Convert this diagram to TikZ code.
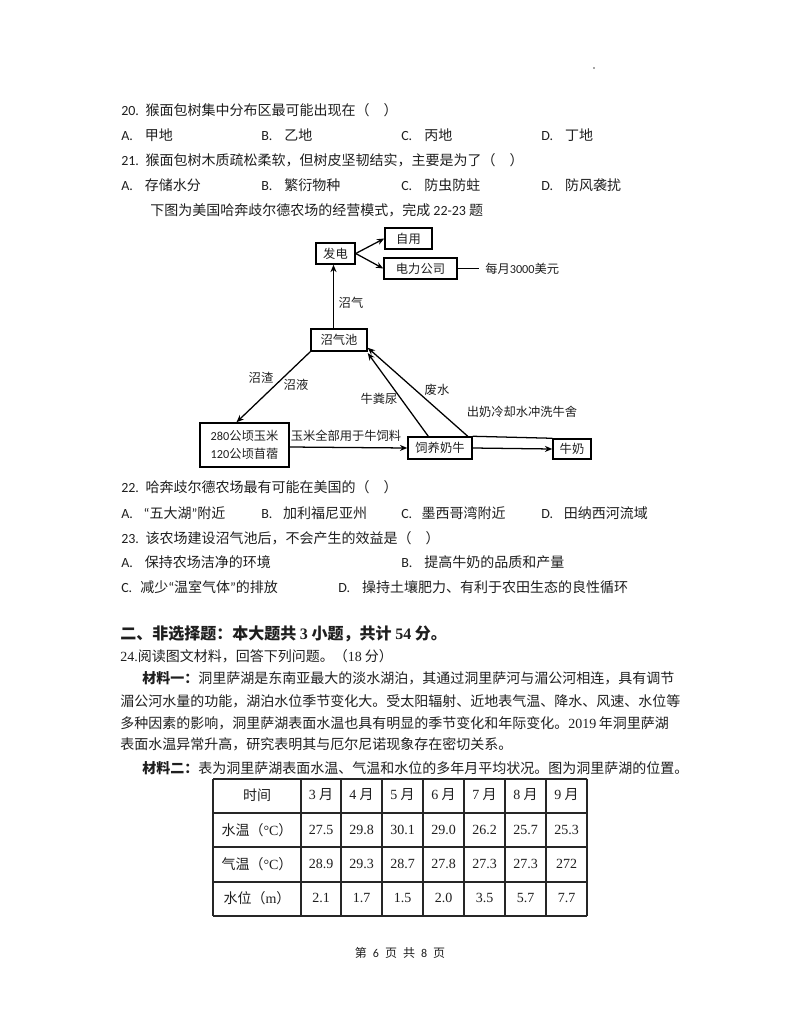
\documentclass[tikz,border=0pt]{standalone}
\usepackage{fontspec}
\usetikzlibrary{arrows.meta}
\setmainfont{Noto Sans CJK SC}
\newfontfamily\latf{Carlito}
\newfontfamily\serf{Liberation Serif}
\XeTeXlinebreaklocale "zh"
\XeTeXlinebreakskip=0pt plus 2pt
\newcommand\latn[1]{{\latf #1}}
\newcommand\sern[1]{{\serf #1}}
\newcommand\jl[2]{\makebox[#1][s]{#2}}
\definecolor{ink}{gray}{0.12}
\tikzset{
  txt/.style={anchor=west,inner sep=0pt,text=ink,font=\fontsize{10.5pt}{12pt}\selectfont,text height=11pt,text depth=2pt},
  lab/.style={inner sep=0pt,text=ink,font=\fontsize{9.2pt}{11pt}\selectfont},
  boxn/.style={draw=black,line width=1.1pt,inner sep=0pt,text=ink,font=\fontsize{9.2pt}{13pt}\selectfont,align=center},
  conn/.style={draw=black,line width=.95pt},
  arr/.style={conn,-{Stealth[length=5.5pt,width=4.5pt]}},
  cell/.style={inner sep=0pt,text=ink,font=\fontsize{10.5pt}{12pt}\selectfont},
  grid/.style={draw=black!85,line width=1pt}
}
\begin{document}
\begin{tikzpicture}[x=.75pt,y=-.75pt]
\useasboundingbox[fill=white] (0,0) rectangle (800,1028);
\fill[black!70] (594,68) circle (.8);
% questions 20-21
\node[txt] (q20) at (121,109) {\latn{20.}\hspace{5pt}猴面包树集中分布区最可能出现在（\hspace{1em}）};
\node[txt] (q20a) at (121,134) {\latn{A.}\hspace{9pt}甲地};
\node[txt] (q20b) at (261,134) {\latn{B.}\hspace{9pt}乙地};
\node[txt] (q20c) at (401,134) {\latn{C.}\hspace{9pt}丙地};
\node[txt] (q20d) at (541,134) {\latn{D.}\hspace{9pt}丁地};
\node[txt] (q21) at (121,159) {\latn{21.}\hspace{5pt}猴面包树木质疏松柔软，但树皮坚韧结实，主要是为了（\hspace{1em}）};
\node[txt] (q21a) at (121,184) {\latn{A.}\hspace{9pt}存储水分};
\node[txt] (q21b) at (261,184) {\latn{B.}\hspace{9pt}繁衍物种};
\node[txt] (q21c) at (401,184) {\latn{C.}\hspace{9pt}防虫防蛀};
\node[txt] (q21d) at (541,184) {\latn{D.}\hspace{9pt}防风袭扰};
\node[txt] (intro) at (150,209) {下图为美国哈奔歧尔德农场的经营模式，完成 \latn{22-23} 题};
% flow diagram
\node[boxn,minimum width=29.25pt,minimum height=15.75pt] (fadian) at (335.5,253.5) {发电};
\node[boxn,minimum width=35.25pt,minimum height=15.75pt] (ziyong) at (408.5,238.5) {自用};
\node[boxn,minimum width=54.75pt,minimum height=15.75pt] (dianli) at (420.5,268.5) {电力公司};
\node[boxn,minimum width=42pt,minimum height=16.5pt] (zhaoqi) at (339,340) {沼气池};
\node[boxn,minimum width=66.75pt,minimum height=33pt] (field) at (244.5,445) {\latn{280}公顷玉米\\\latn{120}公顷苜蓿};
\node[boxn,minimum width=48pt,minimum height=16.5pt] (cow) at (440,448) {饲养奶牛};
\node[boxn,minimum width=28.5pt,minimum height=15pt] (milk) at (572,449) {牛奶};
\coordinate (moneyend) at (479,268.5);
\node[lab,anchor=west] (money) at (485,269) {每月\latn{3000}美元};
\node[lab] (lzq) at (351,303) {沼气};
\node[lab] (lzz) at (261,378) {沼渣};
\node[lab] (lzy) at (296,385) {沼液};
\node[lab] (lfn) at (379,399) {牛粪尿};
\node[lab] (lfs) at (437,390) {废水};
\node[lab] (lcn) at (522,412) {出奶冷却水冲洗牛舍};
\node[lab] (lym) at (346,436) {玉米全部用于牛饲料};
\draw[arr] (fadian.east) -- (ziyong.west);
\draw[arr] (fadian.east) -- (dianli.west);
\draw[conn] (dianli.east) -- (moneyend);
\draw[arr] ([xshift=-1.5pt]fadian.south |- zhaoqi.north) -- ([xshift=-1.5pt]fadian.south);
\draw[arr] (zhaoqi.south west) -- ([xshift=-6pt]field.north);
\draw[arr] ([yshift=-1.5pt]field.east) -- ([yshift=0pt]cow.west);
\draw[arr] ([xshift=15.75pt]cow.north west) -- ([yshift=-1pt]zhaoqi.south east);
\draw[arr] ([xshift=-3.75pt]cow.north east) -- ([yshift=3pt]zhaoqi.south east);
\draw[arr] (cow.east) -- (milk.west);
\draw[conn] (cow.north east) -- (milk.north west);
% questions 22-23
\node[txt] (q22) at (121,486) {\latn{22.}\hspace{5pt}哈奔歧尔德农场最有可能在美国的（\hspace{1em}）};
\node[txt] (q22a) at (121,512) {\latn{A.}\hspace{8pt}\latn{“}五大湖\latn{”}附近};
\node[txt] (q22b) at (261,512) {\latn{B.}\hspace{8pt}加利福尼亚州};
\node[txt] (q22c) at (401,512) {\latn{C.}\hspace{7pt}墨西哥湾附近};
\node[txt] (q22d) at (541,512) {\latn{D.}\hspace{8pt}田纳西河流域};
\node[txt] (q23) at (121,537) {\latn{23.}\hspace{5pt}该农场建设沼气池后，不会产生的效益是（\hspace{1em}）};
\node[txt] (q23a) at (121,561) {\latn{A.}\hspace{9pt}保持农场洁净的环境};
\node[txt] (q23b) at (401,561) {\latn{B.}\hspace{9pt}提高牛奶的品质和产量};
\node[txt] (q23c) at (121,586) {\latn{C.}\hspace{6pt}减少\latn{“}温室气体\latn{”}的排放};
\node[txt] (q23d) at (338,586) {\latn{D.}\hspace{9pt}操持土壤肥力、有利于农田生态的良性循环};
% part two
\node[txt,font=\fontsize{12pt}{14pt}\bfseries\selectfont] (head) at (120,633) {二、非选择题：本大题共 \sern{3} 小题，共计 \sern{54} 分。};
\node[txt] (q24) at (120,655) {\sern{24.}阅读图文材料，回答下列问题。（\sern{18} 分）};
\node[txt] (m1) at (142,677) {\jl{406pt}{\textbf{材料一：}洞里萨湖是东南亚最大的淡水湖泊，其通过洞里萨河与湄公河相连，具有调节}};
\node[txt] (m2) at (120,700) {\jl{423pt}{湄公河水量的功能，湖泊水位季节变化大。受太阳辐射、近地表气温、降水、风速、水位等}};
\node[txt] (m3) at (120,722) {\jl{423pt}{多种因素的影响，洞里萨湖表面水温也具有明显的季节变化和年际变化。\sern{2019}\hspace{2pt}年洞里萨湖}};
\node[txt] (m4) at (120,743) {表面水温异常升高，研究表明其与厄尔尼诺现象存在密切关系。};
\node[txt] (m5) at (142,767) {\jl{409pt}{\textbf{材料二：}表为洞里萨湖表面水温、气温和水位的多年月平均状况。图为洞里萨湖的位置。}};
% table
\foreach \xx in {213,301,341,382,423,464,505,546,587} \draw[grid] (\xx,779) -- (\xx,916);
\foreach \yy in {779,813,847,882,916} \draw[grid] (213,\yy) -- (587,\yy);
\node[cell] (th) at (257,795) {时间};
\node[cell] (r1) at (257,830) {水温（\sern{°C}）};
\node[cell] (r2) at (257,864) {气温（\sern{°C}）};
\node[cell] (r3) at (257,898) {水位（\sern{m}）};
\foreach \cx/\mo/\aa/\bb/\cc [count=\ci] in {321/3/27.5/28.9/2.1,361.5/4/29.8/29.3/1.7,402.5/5/30.1/28.7/1.5,443.5/6/29.0/27.8/2.0,484.5/7/26.2/27.3/3.5,525.5/8/25.7/27.3/5.7,566.5/9/25.3/272/7.7}{
  \node[cell] (mo\ci) at (\cx,795) {\sern{\mo} 月};
  \node[cell,font=\fontsize{10.5pt}{12pt}\serf] (wt\ci) at (\cx,830) {\aa};
  \node[cell,font=\fontsize{10.5pt}{12pt}\serf] (at\ci) at (\cx,864) {\bb};
  \node[cell,font=\fontsize{10.5pt}{12pt}\serf] (wl\ci) at (\cx,898) {\cc};
}
\node[lab,font=\fontsize{9pt}{10pt}\selectfont] (foot) at (400,953) {第\hspace{4.5pt}\latn{6}\hspace{4.5pt}页\hspace{4.5pt}共\hspace{4.5pt}\latn{8}\hspace{4.5pt}页};
\end{tikzpicture}
\end{document}
